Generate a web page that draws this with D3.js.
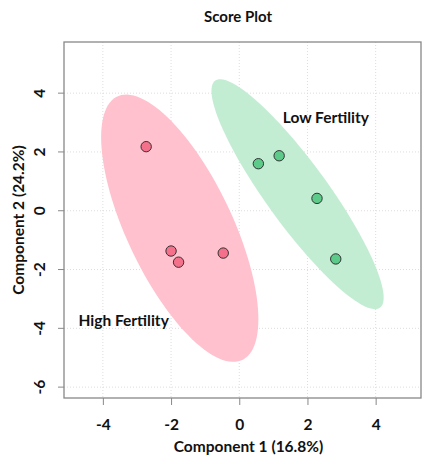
<!DOCTYPE html>
<html>
<head>
<meta charset="utf-8">
<script src="https://cdn.jsdelivr.net/npm/d3@7"></script>
<style>
  body { margin: 0; background: #fff; }
  text { font-family: Lato, "Open Sans", sans-serif; font-weight: bold; fill: #111; }
</style>
</head>
<body>
<div id="chart"></div>
<script>
// scores
const groups = ["High Fertility", "Low Fertility"];
const comp1 = [-2.73, -2.0, -1.78, -0.47, 0.56, 1.17, 2.28, 2.83];
const comp2 = [2.18, -1.37, -1.75, -1.44, 1.60, 1.87, 0.42, -1.64];
const group = [0, 0, 0, 0, 1, 1, 1, 1];
const xTicks = [-4, -2, 0, 2, 4];
const yTicks = [-6, -4, -2, 0, 2, 4];
const labelPos = [[-3.39, -3.71], [2.54, 3.18]];
const ellipseT = 2.4477; // sqrt(qchisq(0.95, 2))

const svgWidth = 430;
const svgHeight = 464;
const margin = { top: 42, right: 9, bottom: 66, left: 64 };
const chartWidth = svgWidth - margin.left - margin.right;
const chartHeight = svgHeight - margin.top - margin.bottom;

const pointFill = ["#f5708a", "#5ccb8a"];
const ellipseFill = ["#ffc1cd", "#c3edd3"];
const fontSize = "15.5px";

const svg = d3.select("#chart").append("svg")
    .attr("width", svgWidth)
    .attr("height", svgHeight);

const xScale = d3.scaleLinear().domain([-5.14, 5.33]).range([0, chartWidth]);
const yScale = d3.scaleLinear().domain([-6.37, 5.74]).range([chartHeight, 0]);

const chartGroup = svg.append("g")
    .attr("transform", `translate(${margin.left}, ${margin.top})`);

// grid
chartGroup.selectAll(".vgrid").data(xTicks).enter().append("line")
    .attr("x1", d => xScale(d)).attr("x2", d => xScale(d))
    .attr("y1", 0).attr("y2", chartHeight)
    .attr("stroke", "#ddd").attr("stroke-dasharray", "1,2");
chartGroup.selectAll(".hgrid").data(yTicks).enter().append("line")
    .attr("y1", d => yScale(d)).attr("y2", d => yScale(d))
    .attr("x1", 0).attr("x2", chartWidth)
    .attr("stroke", "#ddd").attr("stroke-dasharray", "1,2");

const points = comp1.map((x, i) => ({ x: x, y: comp2[i], g: group[i] }));

// confidence ellipses from each group's covariance
const ellipsePath = g => {
    const p = points.filter(d => d.g === g);
    const mx = d3.mean(p, d => d.x), my = d3.mean(p, d => d.y);
    const n = p.length;
    const sxx = d3.sum(p, d => (d.x - mx) ** 2) / (n - 1);
    const syy = d3.sum(p, d => (d.y - my) ** 2) / (n - 1);
    const sxy = d3.sum(p, d => (d.x - mx) * (d.y - my)) / (n - 1);
    const l11 = Math.sqrt(sxx), l21 = sxy / l11, l22 = Math.sqrt(syy - l21 * l21);
    const pts = d3.range(0, 361, 3).map(a => {
        const c = Math.cos(a * Math.PI / 180), s = Math.sin(a * Math.PI / 180);
        return [xScale(mx + ellipseT * l11 * c), yScale(my + ellipseT * (l21 * c + l22 * s))];
    });
    return d3.line().curve(d3.curveLinearClosed)(pts);
};

chartGroup.selectAll(".ellipse").data([0, 1]).enter().append("path")
    .attr("d", g => ellipsePath(g))
    .attr("fill", g => ellipseFill[g]);

chartGroup.selectAll("circle").data(points).enter().append("circle")
    .attr("cx", d => xScale(d.x))
    .attr("cy", d => yScale(d.y))
    .attr("r", 5.2)
    .attr("fill", d => pointFill[d.g])
    .attr("stroke", "#333")
    .attr("stroke-width", 1);

chartGroup.selectAll(".glabel").data(groups).enter().append("text")
    .attr("x", (d, i) => xScale(labelPos[i][0]))
    .attr("y", (d, i) => yScale(labelPos[i][1]))
    .attr("text-anchor", "middle")
    .attr("dominant-baseline", "central")
    .attr("font-size", fontSize)
    .text(d => d);

// box
chartGroup.append("rect")
    .attr("width", chartWidth).attr("height", chartHeight)
    .attr("fill", "none").attr("stroke", "#888").attr("stroke-width", 1.3);

// axes
const xAxisG = chartGroup.append("g")
    .attr("transform", `translate(0, ${chartHeight})`)
    .call(d3.axisBottom(xScale).tickValues(xTicks).tickFormat(d => String(d)).tickSize(7).tickPadding(14));
xAxisG.select(".domain").remove();
xAxisG.selectAll("line").attr("stroke", "#888");
xAxisG.selectAll("text").attr("font-size", fontSize).attr("fill", "#111")
    .style("font-family", "Lato, sans-serif").style("font-weight", "bold");

const yAxisG = chartGroup.append("g")
    .call(d3.axisLeft(yScale).tickValues(yTicks).tickFormat(d => String(d)).tickSize(6).tickPadding(0));
yAxisG.select(".domain").remove();
yAxisG.selectAll("line").attr("stroke", "#888");
yAxisG.selectAll("text")
    .attr("x", 0).attr("dy", null)
    .attr("text-anchor", "middle")
    .attr("dominant-baseline", "central")
    .attr("transform", d => `translate(-25, ${yScale(d)}) rotate(-90)`)
    .attr("y", 0)
    .attr("font-size", fontSize).attr("fill", "#111")
    .style("font-family", "Lato, sans-serif").style("font-weight", "bold");
yAxisG.selectAll(".tick").attr("transform", null);
yAxisG.selectAll(".tick line").attr("y1", d => yScale(d)).attr("y2", d => yScale(d));

svg.append("text")
    .attr("x", 238).attr("y", 22)
    .attr("text-anchor", "middle")
    .attr("font-size", "15px")
    .text("Score Plot");

svg.append("text")
    .attr("x", margin.left + chartWidth / 2 + 6).attr("y", 452)
    .attr("text-anchor", "middle")
    .attr("font-size", fontSize)
    .text("Component 1 (16.8%)");

svg.append("text")
    .attr("transform", `translate(18, ${margin.top + chartHeight / 2}) rotate(-90)`)
    .attr("text-anchor", "middle")
    .attr("dominant-baseline", "central")
    .attr("font-size", fontSize)
    .text("Component 2 (24.2%)");
</script>
</body>
</html>
